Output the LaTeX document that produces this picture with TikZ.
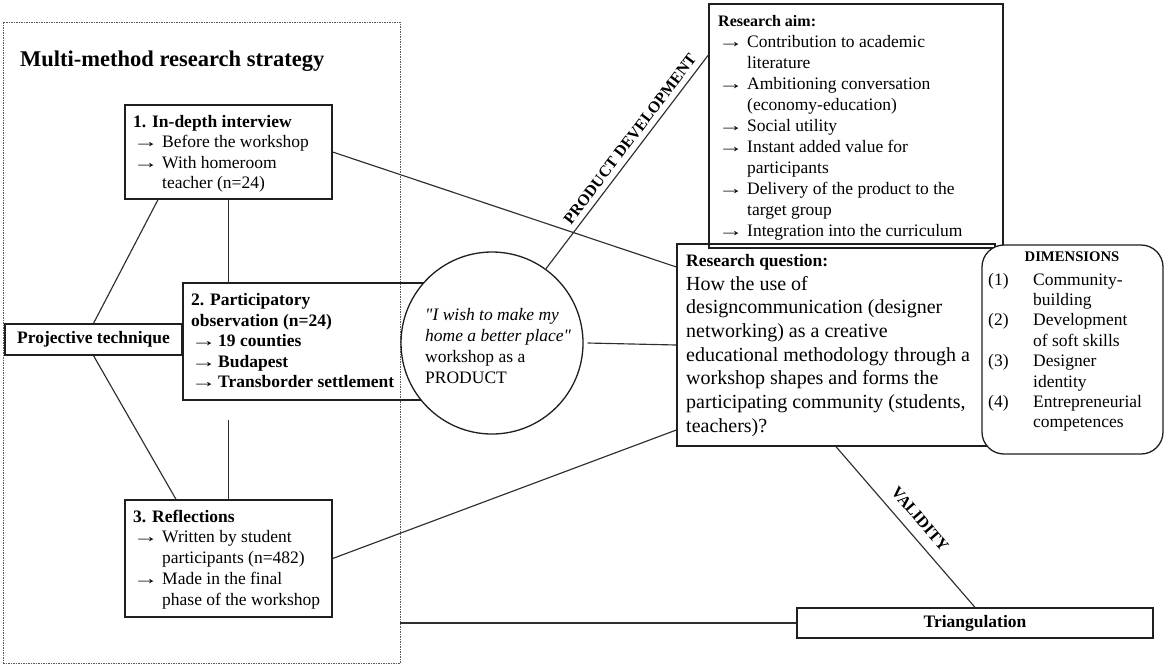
\documentclass[tikz,border=0pt]{standalone}
\usepackage{fontspec}
\setmainfont{Liberation Serif}[Ligatures=TeXOff]
% list helpers: arrow bullet, hanging indent, numbered item
\newcommand\arrglyph{\scalebox{1.45}[1]{→}}
\newcommand\arr{\makebox[29pt][l]{\arrglyph}}
\newcommand\ind{\hspace*{29pt}}
\newcommand\arrb{\makebox[27pt][l]{\arrglyph}}
\newcommand\numit[1]{\makebox[45pt][l]{#1}}
\newcommand\txtblock[3]{\parbox[t]{#1}{\raggedright\fontsize{17.5}{#2}\selectfont #3}}
\begin{document}
\begin{tikzpicture}[x=1pt,y=-1pt,
  ink/.style={draw=black!88, line width=1.3pt},
  boxnode/.style={ink, rectangle, inner sep=0pt},
  conn/.style={draw=black!82, line width=1.15pt},
  frame/.style={draw=black!65, line width=0.9pt, dash pattern=on 1.5pt off 1pt, inner sep=0pt},
  txt/.style={inner sep=0pt, anchor=base west, text=black},
  lbl/.style={inner sep=0pt, text=black, font=\fontsize{16}{18}\selectfont\bfseries}]
\useasboundingbox (0,0) rectangle (1166,665);

% dashed frame of the research strategy
\node[frame, minimum width=397, minimum height=641] (frame) at (201.5,342.5) {};
\node[txt] (title) at (20,66) {\fontsize{22.5}{26}\selectfont\bfseries Multi-method research strategy};

% method boxes
\node[boxnode, minimum width=207, minimum height=94] (b1) at (228.5,152) {};
\node[boxnode, minimum width=247, minimum height=117] (b2) at (306.5,341.5) {};
\node[boxnode, minimum width=177, minimum height=31] (pt) at (93.5,339.5) {};
\node[boxnode, minimum width=207, minimum height=117] (b3) at (228.5,558.5) {};

\node[txt] (b1t) at (133,127) {\txtblock{195pt}{20.5pt}{%
  \textbf{1. In-depth interview}\\
  \arr Before the workshop\\
  \arr With homeroom\\
  \ind teacher (n=24)}};
\node[txt] (b2t) at (191,305.5) {\txtblock{230pt}{20.6pt}{\bfseries
  2. Participatory\\
  observation (n=24)\\
  \arrb 19 counties\\
  \arrb Budapest\\
  \arrb Transborder settlement}};
\node[inner sep=0pt, font=\fontsize{17.5}{20}\selectfont\bfseries] (ptt) at (pt.center) {Projective technique};
\node[txt] (b3t) at (133,522) {\txtblock{195pt}{20.8pt}{%
  \textbf{3. Reflections}\\
  \arr Written by student\\
  \ind participants (n=482)\\
  \arr Made in the final\\
  \ind phase of the workshop}};

% the workshop as a product
\node[ink, circle, fill=white, minimum size=182, inner sep=0pt] (circ) at (492,343) {};
\node[txt] (circt) at (425,320.5) {\txtblock{160pt}{21pt}{%
  \textit{"I wish to make my}\\
  \textit{home a better place"}\\
  workshop as a\\
  PRODUCT}};

% research aim
\node[boxnode, minimum width=294, minimum height=244] (aim) at (856,126) {};
\node[txt] (aimt) at (718,26.5) {\txtblock{280pt}{21pt}{%
  {\fontsize{16}{21}\selectfont\bfseries Research aim:}\\
  \arr Contribution to academic\\
  \ind literature\\
  \arr Ambitioning conversation\\
  \ind (economy-education)\\
  \arr Social utility\\
  \arr Instant added value for\\
  \ind participants\\
  \arr Delivery of the product to the\\
  \ind target group\\
  \arr Integration into the curriculum}};

% research question
\node[boxnode, minimum width=318, minimum height=202] (q) at (836,345) {};
\node[txt] (qhead) at (686,266) {\fontsize{17.5}{20}\selectfont\bfseries Research question:};
\node[txt] (qt) at (686,290) {\parbox[t]{305pt}{\raggedright\fontsize{20}{23.7}\selectfont
  How the use of\\
  designcommunication (designer\\
  networking) as a creative\\
  educational methodology through a\\
  workshop shapes and forms the\\
  participating community (students,\\
  teachers)?}};

% dimensions (drawn over the right edge of the question box)
\node[boxnode, fill=white, rounded corners=22pt, minimum width=181, minimum height=209] (dim) at (1072.5,349.5) {};
\node[inner sep=0pt, anchor=base, font=\fontsize{14.7}{17}\selectfont\bfseries] (dimh) at (1072,261.5) {DIMENSIONS};
\node[txt] (dimt) at (988,285) {\txtblock{170pt}{20.4pt}{%
  \numit{(1)}Community-\\
  \numit{}building\\
  \numit{(2)}Development\\
  \numit{}of soft skills\\
  \numit{(3)}Designer\\
  \numit{}identity\\
  \numit{(4)}Entrepreneurial\\
  \numit{}competences}};

% triangulation
\node[boxnode, minimum width=356, minimum height=30] (tri) at (975,623) {};
\node[inner sep=0pt, font=\fontsize{17.5}{20}\selectfont\bfseries] (trit) at (tri.center) {Triangulation};

% connectors
\coordinate (gapend) at (228.5,420);
\draw[conn] (pt.north) -- ([xshift=-70.5pt]b1.south);
\draw[conn] (pt.south) -- ([xshift=-52.5pt]b3.north);
\draw[conn] (b1.south) -- (b1.south |- b2.north);
\draw[conn] (gapend) -- (b3.north);
\draw[conn] (b1.east) -- ([yshift=78pt]q.west);
\draw[conn] ([xshift=4pt]circ.east) -- (q.west);
\draw[conn] (b3.east) -- ([yshift=-85pt]q.west);
\draw[conn] (circ.54.6) -- ([yshift=71pt]aim.west);
\draw[conn] (q.south) -- (tri.north);
\draw[conn] (frame.east |- tri.west) -- (tri.west);

% connector labels
\node[lbl, rotate=52.8] (pd) at (630,139) {PRODUCT DEVELOPMENT};
\node[lbl, rotate=-49] (val) at (920,519) {VALIDITY};
\end{tikzpicture}
\end{document}
